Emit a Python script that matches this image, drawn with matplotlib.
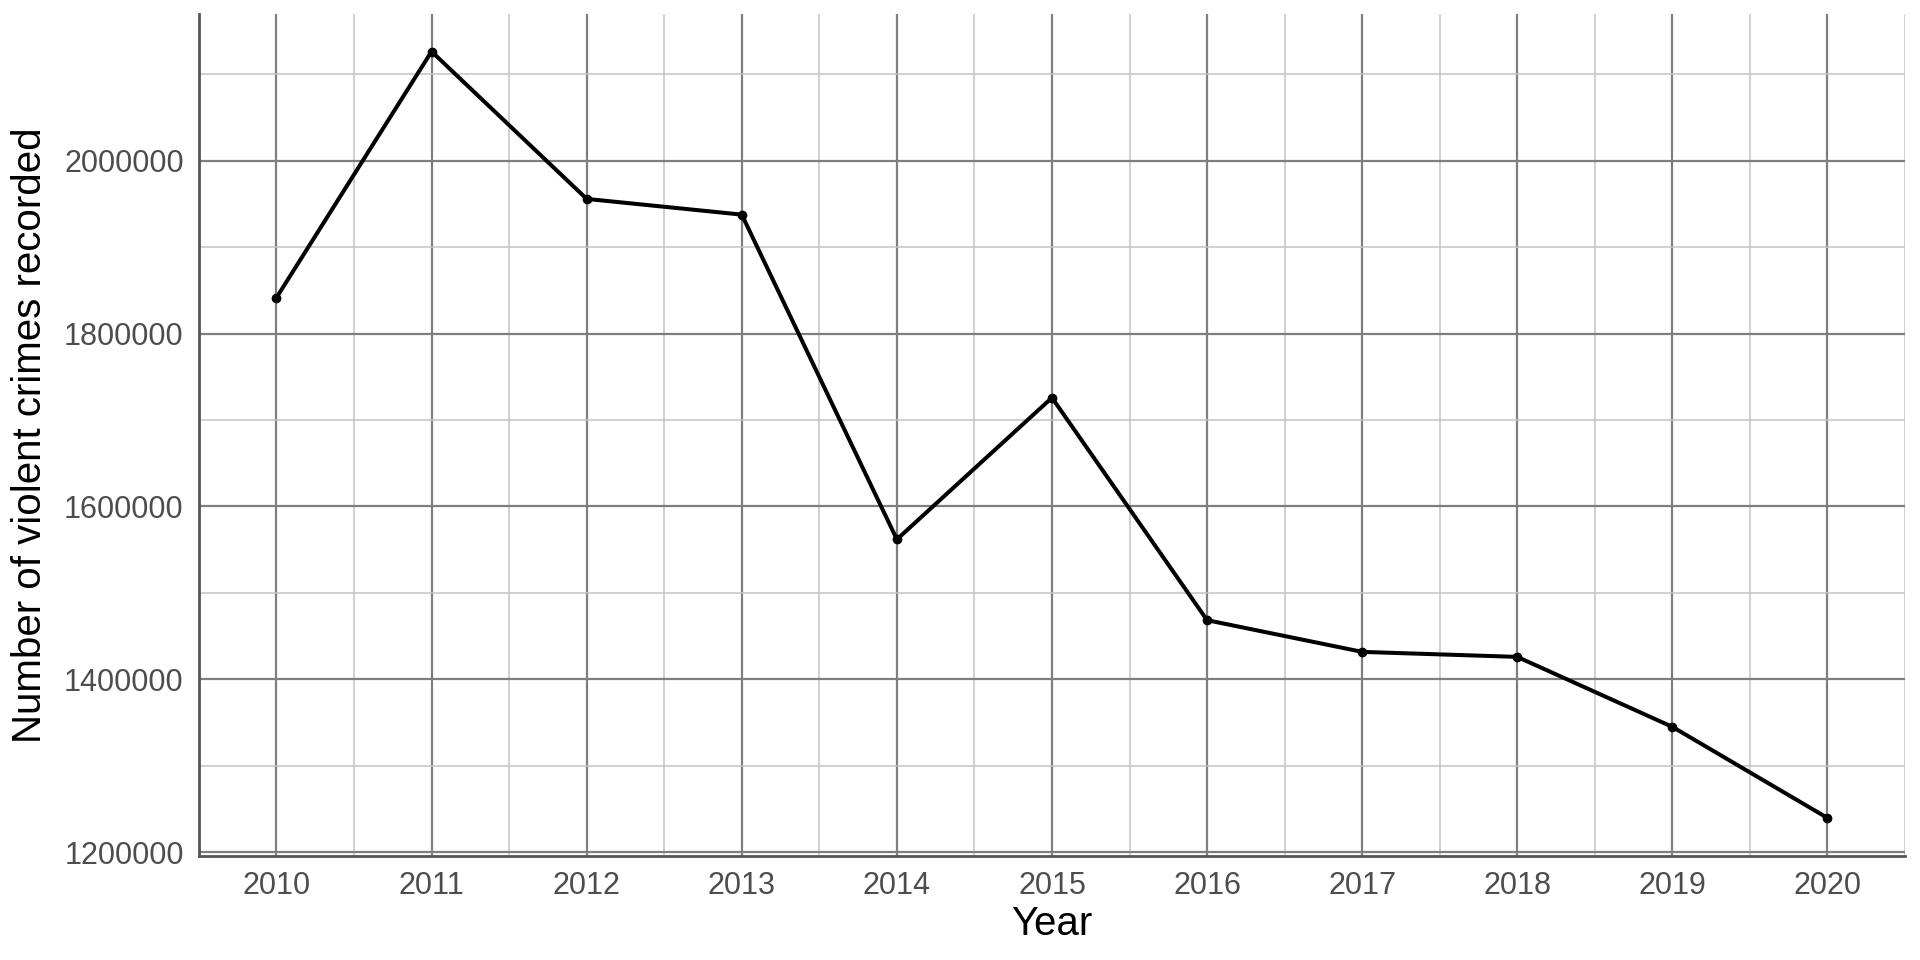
import matplotlib
matplotlib.use("Agg")
import matplotlib.pyplot as plt
from matplotlib.ticker import MultipleLocator

years = [2010, 2011, 2012, 2013, 2014, 2015, 2016, 2017, 2018, 2019, 2020]
crimes = [1841700, 2126600, 1956000, 1937800, 1561900, 1725900,
          1468400, 1431700, 1425900, 1344900, 1239500]
y_ticks = [1200000, 1400000, 1600000, 1800000, 2000000]

plt.rcParams['font.family'] = ['Liberation Sans', 'DejaVu Sans']

fig = plt.figure(figsize=(19.2, 9.6), dpi=100)
ax = fig.add_axes([0.1036, 0.1083, 0.9922 - 0.1036, 0.9854 - 0.1083])

ax.plot(years, crimes, color='black', linewidth=2.9, marker='o',
        markersize=6, zorder=3)

ax.set_xlim(2009.5, 2020.5)
ax.set_ylim(1195400, 2170000)
ax.set_xticks(years)
ax.set_yticks(y_ticks)
ax.set_yticklabels([str(v) for v in y_ticks])
ax.xaxis.set_minor_locator(MultipleLocator(0.5))
ax.yaxis.set_minor_locator(MultipleLocator(100000))

ax.grid(which='major', color='#7f7f7f', linewidth=1.6)
ax.grid(which='minor', color='#c4c4c4', linewidth=1.1)
ax.set_axisbelow(True)

for side in ['top', 'right']:
    ax.spines[side].set_visible(False)
for side in ['left', 'bottom']:
    ax.spines[side].set_color('#555555')
    ax.spines[side].set_linewidth(2.0)

ax.tick_params(which='both', length=0)
ax.tick_params(axis='both', labelsize=22, labelcolor='#4d4d4d', pad=11)

ax.set_xlabel('Year', fontsize=29, color='black', va='center')
ax.set_ylabel('Number of violent crimes recorded', fontsize=29,
              color='black', va='center')
ax.xaxis.set_label_coords(0.5, -0.0808)
ax.yaxis.set_label_coords(-0.0991, 0.5)

fig.savefig('out.png', dpi=100, facecolor='white')
